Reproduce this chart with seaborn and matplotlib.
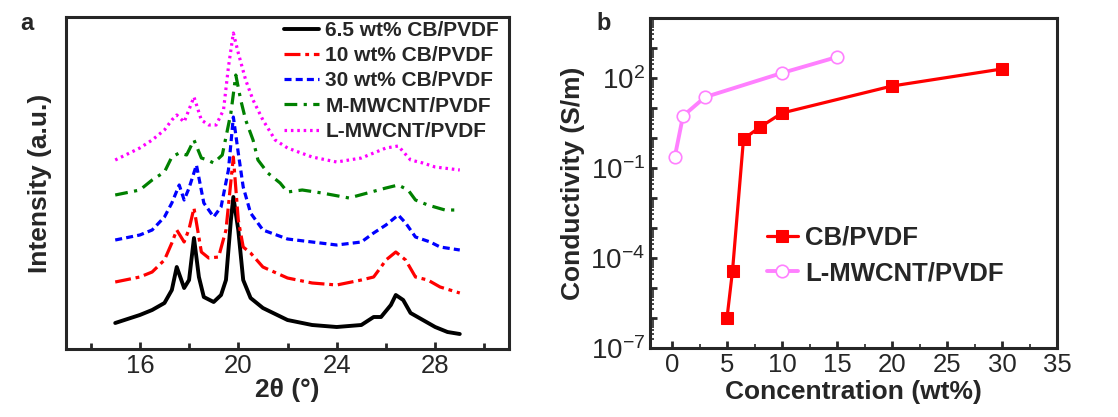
import numpy as np
import pandas as pd
import matplotlib
matplotlib.use("Agg")
import matplotlib.pyplot as plt
import matplotlib.ticker as mticker
import seaborn as sns

# --- panel a: XRD patterns (stacked, arbitrary units) ---
theta_65cb = [15, 16, 16.5, 17, 17.3, 17.5, 17.8, 18.0, 18.2, 18.4, 18.6, 19.0, 19.3, 19.5, 19.7, 19.8,
              20.0, 20.2, 20.5, 21, 22, 23, 24, 25, 25.5, 25.8, 26.2, 26.4, 26.7, 27, 27.5, 28, 28.5, 29]
int_65cb = [26, 34, 39, 46, 59, 82, 61, 69, 111, 72, 52, 47, 54, 69, 129, 152,
            119, 69, 51, 41, 29, 24, 22, 24, 32, 32, 44, 54, 49, 36, 29, 22, 17, 15]

theta_10cb = [15, 16, 16.5, 17, 17.3, 17.5, 17.8, 18.0, 18.2, 18.5, 18.8, 19.2, 19.5, 19.8, 20.0, 20.2,
              20.5, 21, 22, 23, 24, 25, 25.5, 25.8, 26, 26.4, 26.8, 27.2, 27.7, 28.2, 29]
int_10cb = [67, 72, 77, 89, 106, 119, 107, 120, 141, 97, 91, 92, 119, 192, 129, 102,
            96, 82, 71, 66, 64, 69, 72, 82, 89, 97, 89, 72, 69, 62, 56]

theta_30cb = [15, 16, 16.5, 17, 17.3, 17.6, 17.8, 18.0, 18.3, 18.6, 19.0, 19.3, 19.6, 19.8, 20.0, 20.2,
              20.5, 21, 22, 23, 24, 25, 25.5, 26, 26.5, 26.8, 27.2, 27.8, 28.2, 29]
int_30cb = [109, 114, 119, 132, 146, 164, 149, 161, 184, 146, 132, 142, 179, 232, 196, 162,
            136, 119, 110, 107, 104, 107, 116, 124, 134, 126, 112, 107, 102, 99]

theta_mmw = [15, 16, 16.5, 17, 17.3, 17.6, 17.9, 18.2, 18.5, 18.75, 19.0, 19.35, 19.5, 19.7, 19.9, 20.1,
             20.3, 20.6, 20.8, 21.2, 21.7, 22, 22.6, 23.4, 24.5, 25.4, 26.0, 26.5, 26.9, 27.2, 27.7, 28.4, 29]
int_mmw = [154, 159, 169, 177, 192, 196, 194, 209, 191, 189, 186, 194, 212, 236, 274, 249,
           229, 209, 189, 176, 166, 157, 159, 156, 151, 157, 161, 164, 159, 149, 144, 139, 139]

theta_lmw = [15, 16, 16.5, 17, 17.3, 17.5, 17.8, 18.2, 18.5, 18.8, 19.1, 19.4, 19.6, 19.8, 20.0, 20.3,
             20.6, 21, 21.5, 22, 23, 24, 25, 25.5, 26, 26.5, 27, 27.5, 28, 29]
int_lmw = [189, 201, 209, 219, 229, 234, 227, 252, 229, 224, 224, 239, 282, 316, 296, 269,
           249, 229, 209, 201, 192, 187, 191, 196, 201, 203, 189, 186, 182, 179]

xrd_labels = ["6.5 wt% CB/PVDF", "10 wt% CB/PVDF", "30 wt% CB/PVDF", "M-MWCNT/PVDF", "L-MWCNT/PVDF"]

# --- panel b: conductivity ---
cb_conc = [5, 5.5, 6.5, 8, 10, 20, 30]
cb_cond = [1e-6, 3.7e-5, 0.93, 2.3, 6.8, 54, 200]
mw_conc = [0.25, 1, 3, 10, 15]
mw_cond = [0.23, 5.4, 23, 147, 500]

sns.set_style("ticks")
plt.rcParams["font.family"] = ["Liberation Sans", "DejaVu Sans"]
plt.rcParams["mathtext.fontset"] = "custom"
plt.rcParams["mathtext.rm"] = "Liberation Sans"
plt.rcParams["axes.linewidth"] = 2.2

fig = plt.figure(figsize=(11.18, 4.17), dpi=100)
ax1 = fig.add_axes([66 / 1118, 1 - 349 / 417, 443 / 1118, 332 / 417])
ax2 = fig.add_axes([650 / 1118, 1 - 348 / 417, 407 / 1118, 330 / 417])

# XRD curves
series = [
    (theta_65cb, int_65cb, "black", "-", 2.8),
    (theta_10cb, int_10cb, "#ff0000", (0, (5, 1.5, 1.2, 1.5)), 2.3),
    (theta_30cb, int_30cb, "#0000ff", (0, (2.2, 1.3)), 2.3),
    (theta_mmw, int_mmw, "#008000", (0, (4, 2, 1, 2)), 2.3),
    (theta_lmw, int_lmw, "#ff00ff", (0, (0.8, 1.2)), 2.3),
]
for (th, it, col, ls, lw), lab in zip(series, xrd_labels):
    df = pd.DataFrame({"theta": th, "I": it})
    sns.lineplot(data=df, x="theta", y="I", ax=ax1, color=col, linestyle=ls,
                 lw=lw, label=lab, sort=False)

ax1.set_xlim(13, 31)
ax1.set_ylim(0, 332)
ax1.set_xticks([16, 20, 24, 28])
ax1.xaxis.set_minor_locator(mticker.FixedLocator([14, 18, 22, 26, 30]))
ax1.set_yticks([])
ax1.tick_params(axis="x", which="both", direction="in", width=2, labelsize=18.5)
ax1.tick_params(axis="x", which="major", length=5)
ax1.tick_params(axis="x", which="minor", length=4)
ax1.set_xlabel("2θ (°)", fontsize=19, fontweight="bold", labelpad=0)
ax1.set_ylabel("Intensity (a.u.)", fontsize=19, fontweight="bold", labelpad=10)
ax1.legend(loc="upper right", bbox_to_anchor=(1.02, 1.045), frameon=False,
           prop={"weight": "bold", "size": 15}, handlelength=1.7,
           handletextpad=0.3, labelspacing=0.3)

# Conductivity
df_cb = pd.DataFrame({"c": cb_conc, "s": cb_cond})
df_mw = pd.DataFrame({"c": mw_conc, "s": mw_cond})
sns.lineplot(data=df_cb, x="c", y="s", ax=ax2, color="#ff0000", lw=2.3, marker="s",
             markersize=8, markeredgecolor="#ff0000", label="CB/PVDF", sort=False)
sns.lineplot(data=df_mw, x="c", y="s", ax=ax2, color="#ff80ff", lw=2.8, marker="o",
             markersize=9, markerfacecolor="white", markeredgecolor="#ff80ff",
             markeredgewidth=1.2, label="L-MWCNT/PVDF", sort=False)

ax2.set_yscale("log")
ax2.set_xlim(-2, 35)
ax2.set_ylim(1e-7, 1e4)
ax2.set_xticks(np.arange(0, 36, 5))
ax2.xaxis.set_minor_locator(mticker.MultipleLocator(2.5))
ax2.yaxis.set_major_locator(mticker.LogLocator(base=10, numticks=30))
ax2.yaxis.set_minor_locator(mticker.LogLocator(base=10, subs=np.arange(2, 10), numticks=30))
ax2.yaxis.set_minor_formatter(mticker.NullFormatter())


def ylab(v, pos):
    e = int(round(np.log10(v)))
    return r"$\mathdefault{10^{%d}}$" % e if e in (-7, -4, -1, 2) else ""


ax2.yaxis.set_major_formatter(mticker.FuncFormatter(ylab))
ax2.tick_params(axis="both", which="both", direction="in", width=2, labelsize=18.5)
ax2.tick_params(axis="y", which="major", labelsize=20)
ax2.tick_params(axis="both", which="major", length=5)
ax2.tick_params(axis="both", which="minor", length=3, width=1.2)
ax2.set_xlabel("Concentration (wt%)", fontsize=19, fontweight="bold", labelpad=2)
ax2.set_ylabel("Conductivity (S/m)", fontsize=19, fontweight="bold", labelpad=4)
ax2.legend(loc="upper left", bbox_to_anchor=(0.23, 0.44), frameon=False,
           prop={"weight": "bold", "size": 18.5}, handlelength=1.2,
           handletextpad=0.3, labelspacing=0.45)

fig.text(20 / 1118, 1 - 30 / 417, "a", fontsize=17, fontweight="bold")
fig.text(596 / 1118, 1 - 30 / 417, "b", fontsize=17, fontweight="bold")

fig.savefig("out.png", dpi=100)
